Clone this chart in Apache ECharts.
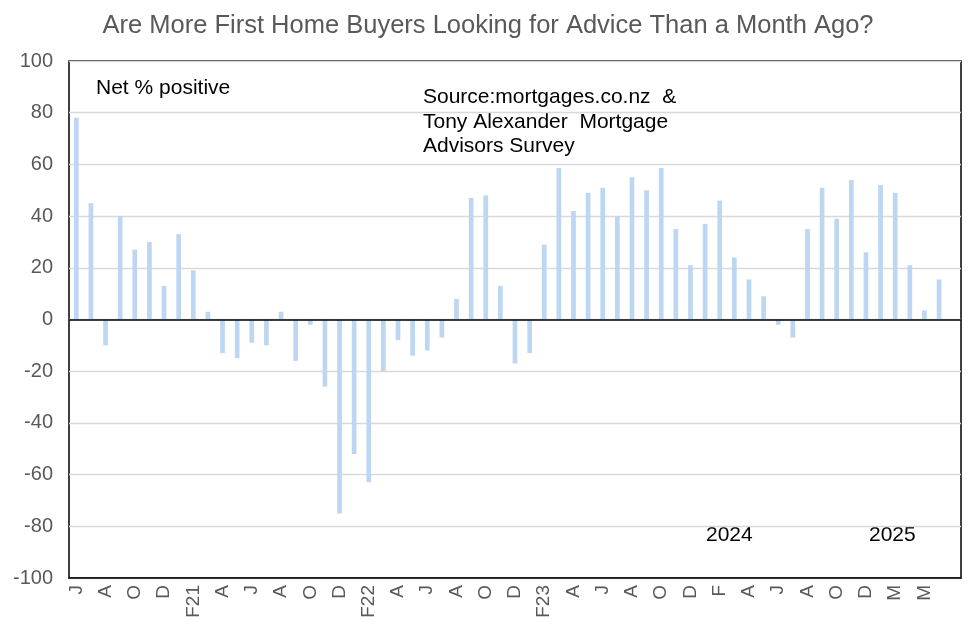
<!DOCTYPE html>
<html>
<head>
<meta charset="utf-8">
<script src="https://cdn.jsdelivr.net/npm/echarts@6/dist/echarts.min.js"></script>
<style>
  html, body { margin: 0; padding: 0; background: #fff; }
  #chart { width: 976px; height: 637px; }
</style>
</head>
<body>
<div id="chart"></div>
<script>
// 月份标签 (Jun 2020 onward, every 2nd shown; last slot has no data yet)
let months = ["J", "J", "A", "S", "O", "N", "D", "J", "F21", "M",
    "A", "M", "J", "J", "A", "S", "O", "N", "D", "J",
    "F22", "M", "A", "M", "J", "J", "A", "S", "O", "N",
    "D", "J", "F23", "M", "A", "M", "J", "J", "A", "S",
    "O", "N", "D", "J", "F", "M", "A", "M", "J", "J",
    "A", "S", "O", "N", "D", "F", "M", "A", "M", "J", ""]
// 净正比例
let netPositive = [78, 45, -10, 40, 27, 30, 13, 33, 19, 3,
    -13, -15, -9, -10, 3, -16, -2, -26, -75, -52,
    -63, -20, -8, -14, -12, -7, 8, 47, 48, 13,
    -17, -13, 29, 58.6, 42, 49, 51, 40, 55, 50,
    58.6, 35, 21, 37, 46, 24, 15.5, 9, -2, -7,
    35, 51, 39, 54, 26, 52, 49, 21, 3.5, 15.5, null]
let yTicks = { min: -100, max: 100, interval: 20 }

const font = 'Liberation Sans, Arial, sans-serif'
let chart = echarts.init(document.getElementById('chart'));
let option = {
    animation: false,
    title: {
        text: 'Are More First Home Buyers Looking for Advice Than a Month Ago?',
        left: 'center',
        top: 8,
        textStyle: {
            fontFamily: font,
            fontSize: 25.5,
            fontWeight: 'normal',
            color: '#595959'
        }
    },
    grid: {
        left: 69,
        right: 15,
        top: 61,
        bottom: 59,
        show: true,
        borderColor: '#000',
        borderWidth: 1.5
    },
    xAxis: {
        type: 'category',
        data: months,
        axisLine: { onZero: false, lineStyle: { color: '#000', width: 1.5 } },
        axisTick: { show: false },
        axisLabel: {
            interval: 1,
            rotate: 90,
            margin: 7,
            color: '#595959',
            fontSize: 19,
            fontFamily: font
        }
    },
    yAxis: {
        type: 'value',
        min: yTicks.min,
        max: yTicks.max,
        interval: yTicks.interval,
        axisLine: { show: false },
        axisTick: { show: false },
        axisLabel: {
            margin: 16,
            color: '#595959',
            fontSize: 20,
            fontFamily: font
        },
        splitLine: { lineStyle: { color: '#d9d9d9', width: 1.3 } }
    },
    series: [{
        name: 'Net % positive',
        type: 'bar',
        data: netPositive,
        barWidth: 4.7,
        itemStyle: { color: '#BDD7F3' },
        markLine: {
            silent: true,
            symbol: 'none',
            label: { show: false },
            lineStyle: { color: '#000', width: 1.5, type: 'solid' },
            data: [{ yAxis: 0 }]
        }
    }],
    graphic: [
        {
            type: 'text', left: 96, top: 78,
            style: { text: 'Net % positive', fontSize: 21, fill: '#000', fontFamily: font }
        },
        {
            type: 'text', left: 423, top: 85,
            style: {
                text: 'Source:mortgages.co.nz  &\nTony Alexander  Mortgage\nAdvisors Survey',
                fontSize: 21, lineHeight: 24.5, fill: '#000',
                fontFamily: font
            }
        },
        {
            type: 'text', left: 706, top: 525,
            style: { text: '2024', fontSize: 21, fill: '#000', fontFamily: font }
        },
        {
            type: 'text', left: 869, top: 525,
            style: { text: '2025', fontSize: 21, fill: '#000', fontFamily: font }
        }
    ]
};
chart.setOption(option);
</script>
</body>
</html>
